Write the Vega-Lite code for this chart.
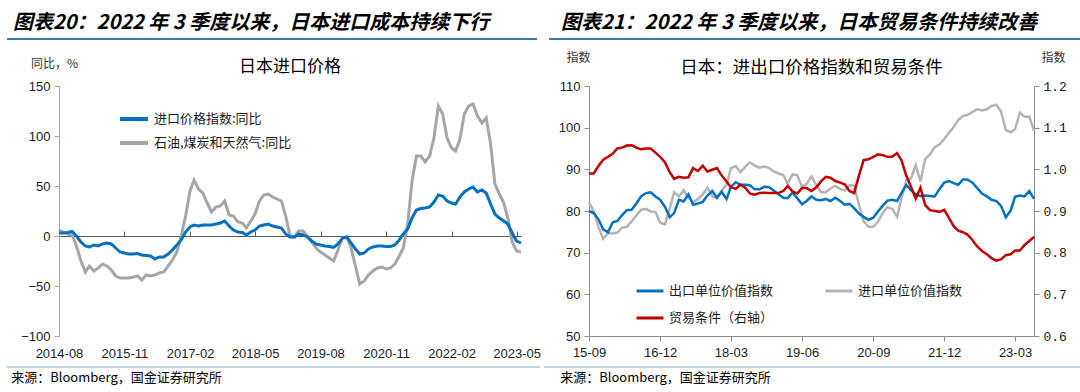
{
  "$schema": "https://vega.github.io/schema/vega-lite/v6.json",
  "background": "#ffffff",
  "padding": {"left": 5, "top": 13, "right": 0, "bottom": 0},
  "config": {
    "view": {"stroke": null},
    "font": "Noto Sans CJK SC",
    "axis": {"grid": false, "labelFont": "Liberation Sans", "labelFontSize": 13, "labelColor": "#1a1a1a", "titleFont": "Noto Sans CJK SC", "titleFontSize": 12, "titleFontWeight": "normal", "titleColor": "#333333", "domainColor": "#8c8c8c", "tickColor": "#8c8c8c", "tickSize": 5, "labelFlush": false, "labelOverlap": false},
    "legend": {"labelFont": "Noto Sans CJK SC", "labelFontSize": 13, "labelColor": "#1a1a1a", "padding": 0},
    "title": {"font": "Noto Sans CJK SC", "fontWeight": "normal", "color": "#000000"}
  },
  "resolve": {"scale": {"color": "independent"}},
  "spacing": 11,
  "vconcat": [
    {
      "spacing": 10,
      "hconcat": [
        {
          "width": 478, "height": 3,
          "title": {"text": "图表20：2022 年 3 季度以来，日本进口成本持续下行", "anchor": "start", "fontSize": 20, "fontWeight": "bold", "fontStyle": "italic", "offset": 3, "dx": 7},
          "data": {"values": [{}]},
          "mark": {"type": "rule", "color": "#3F7AA3", "strokeWidth": 2},
          "encoding": {
            "x": {"datum": -0.1088, "type": "quantitative", "scale": {"domain": [0, 1]}, "axis": null},
            "x2": {"datum": 1},
            "y": {"datum": 0, "type": "quantitative", "scale": {"domain": [0, 1]}, "axis": null}
          }
        },
        {
          "width": 535, "height": 3,
          "title": {"text": "图表21：2022 年 3 季度以来，日本贸易条件持续改善", "anchor": "start", "fontSize": 20, "fontWeight": "bold", "fontStyle": "italic", "offset": 3, "dx": 13},
          "data": {"values": [{}]},
          "mark": {"type": "rule", "color": "#3F7AA3", "strokeWidth": 2},
          "encoding": {
            "x": {"datum": 0, "type": "quantitative", "scale": {"domain": [0, 1]}, "axis": null},
            "x2": {"datum": 1},
            "y": {"datum": 0, "type": "quantitative", "scale": {"domain": [0, 1]}, "axis": null}
          }
        }
      ]
    },
    {
      "spacing": 6,
      "resolve": {"scale": {"color": "independent"}},
      "vconcat": [
        {
          "spacing": 8,
          "resolve": {"scale": {"color": "independent"}},
          "hconcat": [
            {
              "width": 462, "height": 250,
              "title": {"text": "日本进口价格", "fontSize": 17, "offset": 10, "dy": 29, "anchor": "middle"},
              "encoding": {
                "x": {"field": "d", "type": "temporal",
                  "scale": {"type": "utc", "domain": [{"year": 2014, "month": 8, "date": 1, "utc": true}, {"year": 2023, "month": 6, "date": 1, "utc": true}]},
                  "axis": {"values": [{"year": 2014, "month": 8, "date": 1, "utc": true}, {"year": 2015, "month": 11, "date": 1, "utc": true}, {"year": 2017, "month": 2, "date": 1, "utc": true}, {"year": 2018, "month": 5, "date": 1, "utc": true}, {"year": 2019, "month": 8, "date": 1, "utc": true}, {"year": 2020, "month": 11, "date": 1, "utc": true}, {"year": 2022, "month": 2, "date": 1, "utc": true}, {"year": 2023, "month": 5, "date": 1, "utc": true}],
                    "labelExpr": "utcFormat(datum.value, '%Y-%m')", "title": null, "offset": -100, "tickSize": -5, "labelPadding": 116, "domainColor": "#595959", "tickColor": "#595959", "domainWidth": 1.2}},
                "y": {"field": "v", "type": "quantitative", "scale": {"domain": [-100, 150], "nice": false},
                  "axis": {"values": [-100, -50, 0, 50, 100, 150], "title": "同比，%", "titleAngle": 0, "titleAlign": "center", "titleBaseline": "middle", "titleX": -5, "titleY": -23, "labelPadding": 4, "minExtent": 52, "domainColor": "#a6a6a6", "tickColor": "#a6a6a6"}}
              },
              "layer": [
                {
                  "data": {"values": [
                    {"d":"2014-08-01","v":6},{"d":"2014-09-01","v":4},{"d":"2014-10-01","v":2},{"d":"2014-11-01","v":1},{"d":"2014-12-01","v":-10},
                    {"d":"2015-01-01","v":-25},{"d":"2015-02-01","v":-36},{"d":"2015-03-01","v":-30},{"d":"2015-04-01","v":-35},{"d":"2015-05-01","v":-32},{"d":"2015-06-01","v":-28},{"d":"2015-07-01","v":-30},{"d":"2015-08-01","v":-34},{"d":"2015-09-01","v":-40},{"d":"2015-10-01","v":-42},{"d":"2015-11-01","v":-42},{"d":"2015-12-01","v":-42},
                    {"d":"2016-01-01","v":-41},{"d":"2016-02-01","v":-40},{"d":"2016-03-01","v":-44},{"d":"2016-04-01","v":-39},{"d":"2016-05-01","v":-40},{"d":"2016-06-01","v":-39},{"d":"2016-07-01","v":-37},{"d":"2016-08-01","v":-36},{"d":"2016-09-01","v":-30},{"d":"2016-10-01","v":-24},{"d":"2016-11-01","v":-16},{"d":"2016-12-01","v":0},
                    {"d":"2017-01-01","v":20},{"d":"2017-02-01","v":45},{"d":"2017-03-01","v":56},{"d":"2017-04-01","v":47},{"d":"2017-05-01","v":43},{"d":"2017-06-01","v":33},{"d":"2017-07-01","v":24},{"d":"2017-08-01","v":29},{"d":"2017-09-01","v":30},{"d":"2017-10-01","v":35},{"d":"2017-11-01","v":21},{"d":"2017-12-01","v":20},
                    {"d":"2018-01-01","v":14},{"d":"2018-02-01","v":13},{"d":"2018-03-01","v":8},{"d":"2018-04-01","v":15},{"d":"2018-05-01","v":22},{"d":"2018-06-01","v":35},{"d":"2018-07-01","v":41},{"d":"2018-08-01","v":42},{"d":"2018-09-01","v":39},{"d":"2018-10-01","v":37},{"d":"2018-11-01","v":35},{"d":"2018-12-01","v":20},
                    {"d":"2019-01-01","v":0},{"d":"2019-02-01","v":-1},{"d":"2019-03-01","v":5},{"d":"2019-04-01","v":5},{"d":"2019-05-01","v":0},{"d":"2019-06-01","v":-6},{"d":"2019-07-01","v":-12},{"d":"2019-08-01","v":-16},{"d":"2019-09-01","v":-19},{"d":"2019-10-01","v":-22},{"d":"2019-11-01","v":-25},{"d":"2019-12-01","v":-14},
                    {"d":"2020-01-01","v":-2},{"d":"2020-02-01","v":-1},{"d":"2020-03-01","v":-12},{"d":"2020-04-01","v":-30},{"d":"2020-05-01","v":-48},{"d":"2020-06-01","v":-45},{"d":"2020-07-01","v":-39},{"d":"2020-08-01","v":-35},{"d":"2020-09-01","v":-32},{"d":"2020-10-01","v":-31},{"d":"2020-11-01","v":-33},{"d":"2020-12-01","v":-32},
                    {"d":"2021-01-01","v":-28},{"d":"2021-02-01","v":-20},{"d":"2021-03-01","v":-12},{"d":"2021-04-01","v":12},{"d":"2021-05-01","v":55},{"d":"2021-06-01","v":80},{"d":"2021-07-01","v":80},{"d":"2021-08-01","v":74},{"d":"2021-09-01","v":80},{"d":"2021-10-01","v":98},{"d":"2021-11-01","v":130},{"d":"2021-12-01","v":122},
                    {"d":"2022-01-01","v":98},{"d":"2022-02-01","v":88},{"d":"2022-03-01","v":85},{"d":"2022-04-01","v":97},{"d":"2022-05-01","v":122},{"d":"2022-06-01","v":130},{"d":"2022-07-01","v":132},{"d":"2022-08-01","v":120},{"d":"2022-09-01","v":113},{"d":"2022-10-01","v":118},{"d":"2022-11-01","v":92},{"d":"2022-12-01","v":52},
                    {"d":"2023-01-01","v":42},{"d":"2023-02-01","v":33},{"d":"2023-03-01","v":18},{"d":"2023-04-01","v":-6},{"d":"2023-05-01","v":-15},{"d":"2023-06-01","v":-16}
                  ]},
                  "mark": {"type": "line", "strokeWidth": 3},
                  "encoding": {"color": {"datum": "石油,煤炭和天然气:同比", "type": "nominal",
                    "scale": {"domain": ["进口价格指数:同比", "石油,煤炭和天然气:同比"], "range": ["#0070C0", "#A6A6A6"]},
                    "legend": {"orient": "none", "legendX": 59, "legendY": 17, "title": null, "symbolType": "stroke", "symbolSize": 784, "symbolStrokeWidth": 4, "labelOffset": 4, "rowPadding": -3}}}
                },
                {
                  "data": {"values": [
                    {"d":"2014-08-01","v":3},{"d":"2014-09-01","v":3},{"d":"2014-10-01","v":3.5},{"d":"2014-11-01","v":4.5},{"d":"2014-12-01","v":0},
                    {"d":"2015-01-01","v":-6},{"d":"2015-02-01","v":-10},{"d":"2015-03-01","v":-11},{"d":"2015-04-01","v":-9},{"d":"2015-05-01","v":-10},{"d":"2015-06-01","v":-8},{"d":"2015-07-01","v":-7},{"d":"2015-08-01","v":-8},{"d":"2015-09-01","v":-12},{"d":"2015-10-01","v":-16},{"d":"2015-11-01","v":-17},{"d":"2015-12-01","v":-18},
                    {"d":"2016-01-01","v":-18},{"d":"2016-02-01","v":-17.5},{"d":"2016-03-01","v":-19},{"d":"2016-04-01","v":-19.5},{"d":"2016-05-01","v":-20},{"d":"2016-06-01","v":-23},{"d":"2016-07-01","v":-21},{"d":"2016-08-01","v":-21},{"d":"2016-09-01","v":-18},{"d":"2016-10-01","v":-14},{"d":"2016-11-01","v":-9},{"d":"2016-12-01","v":-4},
                    {"d":"2017-01-01","v":4},{"d":"2017-02-01","v":9},{"d":"2017-03-01","v":11},{"d":"2017-04-01","v":10},{"d":"2017-05-01","v":11},{"d":"2017-06-01","v":11},{"d":"2017-07-01","v":11},{"d":"2017-08-01","v":12},{"d":"2017-09-01","v":13},{"d":"2017-10-01","v":15},{"d":"2017-11-01","v":10},{"d":"2017-12-01","v":6},
                    {"d":"2018-01-01","v":4},{"d":"2018-02-01","v":3.5},{"d":"2018-03-01","v":1},{"d":"2018-04-01","v":4},{"d":"2018-05-01","v":6},{"d":"2018-06-01","v":10},{"d":"2018-07-01","v":11},{"d":"2018-08-01","v":12},{"d":"2018-09-01","v":10},{"d":"2018-10-01","v":9},{"d":"2018-11-01","v":8},{"d":"2018-12-01","v":2},
                    {"d":"2019-01-01","v":-1},{"d":"2019-02-01","v":-1},{"d":"2019-03-01","v":2},{"d":"2019-04-01","v":1},{"d":"2019-05-01","v":-1},{"d":"2019-06-01","v":-5},{"d":"2019-07-01","v":-8},{"d":"2019-08-01","v":-9},{"d":"2019-09-01","v":-10},{"d":"2019-10-01","v":-10.5},{"d":"2019-11-01","v":-11.5},{"d":"2019-12-01","v":-8},
                    {"d":"2020-01-01","v":-2},{"d":"2020-02-01","v":-1},{"d":"2020-03-01","v":-7},{"d":"2020-04-01","v":-13},{"d":"2020-05-01","v":-18},{"d":"2020-06-01","v":-17},{"d":"2020-07-01","v":-13},{"d":"2020-08-01","v":-11},{"d":"2020-09-01","v":-10},{"d":"2020-10-01","v":-10},{"d":"2020-11-01","v":-10.5},{"d":"2020-12-01","v":-10.5},
                    {"d":"2021-01-01","v":-9},{"d":"2021-02-01","v":-4},{"d":"2021-03-01","v":2},{"d":"2021-04-01","v":7},{"d":"2021-05-01","v":18},{"d":"2021-06-01","v":26},{"d":"2021-07-01","v":27.5},{"d":"2021-08-01","v":28},{"d":"2021-09-01","v":29},{"d":"2021-10-01","v":34},{"d":"2021-11-01","v":41},{"d":"2021-12-01","v":40},
                    {"d":"2022-01-01","v":35},{"d":"2022-02-01","v":33},{"d":"2022-03-01","v":32},{"d":"2022-04-01","v":39},{"d":"2022-05-01","v":44},{"d":"2022-06-01","v":47},{"d":"2022-07-01","v":49},{"d":"2022-08-01","v":44},{"d":"2022-09-01","v":46},{"d":"2022-10-01","v":43},{"d":"2022-11-01","v":32},{"d":"2022-12-01","v":22},
                    {"d":"2023-01-01","v":18},{"d":"2023-02-01","v":15},{"d":"2023-03-01","v":12},{"d":"2023-04-01","v":3},{"d":"2023-05-01","v":-5},{"d":"2023-06-01","v":-7}
                  ]},
                  "mark": {"type": "line", "strokeWidth": 3},
                  "encoding": {"color": {"datum": "进口价格指数:同比", "type": "nominal",
                    "scale": {"domain": ["进口价格指数:同比", "石油,煤炭和天然气:同比"], "range": ["#0070C0", "#A6A6A6"]}}}
                }
              ]
            },
            {
              "width": 445, "height": 250,
              "title": {"text": "日本：进出口价格指数和贸易条件", "fontSize": 17.5, "offset": 10, "dy": 35, "anchor": "middle"},
              "encoding": {
                "x": {"field": "d", "type": "temporal",
                  "scale": {"type": "utc", "domain": [{"year": 2015, "month": 9, "date": 1, "utc": true}, {"year": 2023, "month": 7, "date": 1, "utc": true}]},
                  "axis": {"values": [{"year": 2015, "month": 9, "date": 1, "utc": true}, {"year": 2016, "month": 12, "date": 1, "utc": true}, {"year": 2018, "month": 3, "date": 1, "utc": true}, {"year": 2019, "month": 6, "date": 1, "utc": true}, {"year": 2020, "month": 9, "date": 1, "utc": true}, {"year": 2021, "month": 12, "date": 1, "utc": true}, {"year": 2023, "month": 3, "date": 1, "utc": true}],
                    "labelExpr": "utcFormat(datum.value, '%y-%m')", "title": null, "labelPadding": 5}}
              },
              "layer": [
                {
                  "encoding": {
                    "y": {"field": "v", "type": "quantitative", "scale": {"domain": [50, 110], "nice": false},
                      "axis": {"values": [50, 60, 70, 80, 90, 100, 110], "title": "指数", "titleAngle": 0, "titleAlign": "center", "titleBaseline": "middle", "titleX": -11, "titleY": -29, "labelPadding": 4, "minExtent": 40}}
                  },
                  "layer": [
                    {
                      "data": {"values": [
                        {"d":"2015-09-01","v":82},{"d":"2015-10-01","v":80},{"d":"2015-11-01","v":76.2},{"d":"2015-12-01","v":73.3},
                        {"d":"2016-01-01","v":74.7},{"d":"2016-02-01","v":74.6},{"d":"2016-03-01","v":74.8},{"d":"2016-04-01","v":76},{"d":"2016-05-01","v":76.2},{"d":"2016-06-01","v":77.5},{"d":"2016-07-01","v":78.9},{"d":"2016-08-01","v":80.3},{"d":"2016-09-01","v":80.5},{"d":"2016-10-01","v":79.9},{"d":"2016-11-01","v":79.8},{"d":"2016-12-01","v":77.2},
                        {"d":"2017-01-01","v":76.8},{"d":"2017-02-01","v":80.5},{"d":"2017-03-01","v":84.5},{"d":"2017-04-01","v":83.5},{"d":"2017-05-01","v":85},{"d":"2017-06-01","v":83.2},{"d":"2017-07-01","v":82.1},{"d":"2017-08-01","v":82.9},{"d":"2017-09-01","v":84},{"d":"2017-10-01","v":85.6},{"d":"2017-11-01","v":83.5},{"d":"2017-12-01","v":83.1},
                        {"d":"2018-01-01","v":84.9},{"d":"2018-02-01","v":86.3},{"d":"2018-03-01","v":90.3},{"d":"2018-04-01","v":90.8},{"d":"2018-05-01","v":89.3},{"d":"2018-06-01","v":90.6},{"d":"2018-07-01","v":91.7},{"d":"2018-08-01","v":90.9},{"d":"2018-09-01","v":90.4},{"d":"2018-10-01","v":90.7},{"d":"2018-11-01","v":90.3},{"d":"2018-12-01","v":89.5},
                        {"d":"2019-01-01","v":89},{"d":"2019-02-01","v":88.6},{"d":"2019-03-01","v":86.6},{"d":"2019-04-01","v":88.8},{"d":"2019-05-01","v":88.6},{"d":"2019-06-01","v":85.8},{"d":"2019-07-01","v":86.5},{"d":"2019-08-01","v":88.3},{"d":"2019-09-01","v":86.2},{"d":"2019-10-01","v":84.5},{"d":"2019-11-01","v":84.5},{"d":"2019-12-01","v":85.4},
                        {"d":"2020-01-01","v":86},{"d":"2020-02-01","v":85.3},{"d":"2020-03-01","v":84.9},{"d":"2020-04-01","v":86.2},{"d":"2020-05-01","v":86.1},{"d":"2020-06-01","v":81.5},{"d":"2020-07-01","v":77.5},{"d":"2020-08-01","v":76.2},{"d":"2020-09-01","v":76.2},{"d":"2020-10-01","v":77.4},{"d":"2020-11-01","v":79.5},{"d":"2020-12-01","v":80.9},
                        {"d":"2021-01-01","v":80.5},{"d":"2021-02-01","v":78.6},{"d":"2021-03-01","v":83},{"d":"2021-04-01","v":87.4},{"d":"2021-05-01","v":87.8},{"d":"2021-06-01","v":91},{"d":"2021-07-01","v":87.1},{"d":"2021-08-01","v":92.5},{"d":"2021-09-01","v":93.6},{"d":"2021-10-01","v":95.3},{"d":"2021-11-01","v":96},{"d":"2021-12-01","v":97.3},
                        {"d":"2022-01-01","v":98.8},{"d":"2022-02-01","v":100.2},{"d":"2022-03-01","v":101.8},{"d":"2022-04-01","v":102.8},{"d":"2022-05-01","v":103.1},{"d":"2022-06-01","v":103.8},{"d":"2022-07-01","v":104.4},{"d":"2022-08-01","v":104.1},{"d":"2022-09-01","v":104.4},{"d":"2022-10-01","v":105.2},{"d":"2022-11-01","v":105.5},{"d":"2022-12-01","v":103.9},
                        {"d":"2023-01-01","v":99.4},{"d":"2023-02-01","v":98.9},{"d":"2023-03-01","v":99.6},{"d":"2023-04-01","v":103.6},{"d":"2023-05-01","v":102.6},{"d":"2023-06-01","v":102.6},{"d":"2023-07-01","v":99.3}
                      ]},
                      "mark": {"type": "line", "strokeWidth": 2.5},
                      "encoding": {"color": {"datum": "进口单位价值指数", "type": "nominal",
                        "scale": {"domain": ["出口单位价值指数", "进口单位价值指数", "贸易条件（右轴）"], "range": ["#0070C0", "#B4B4B4", "#C00000"]},
                        "legend": {"orient": "none", "direction": "horizontal", "legendX": 46, "legendY": 190, "columns": 2, "columnPadding": 45, "rowPadding": 5, "title": null, "symbolType": "stroke", "symbolSize": 729, "symbolStrokeWidth": 3, "labelOffset": 4}}}
                    },
                    {
                      "data": {"values": [
                        {"d":"2015-09-01","v":80},{"d":"2015-10-01","v":79.5},{"d":"2015-11-01","v":78},{"d":"2015-12-01","v":75.6},
                        {"d":"2016-01-01","v":74.9},{"d":"2016-02-01","v":77.3},{"d":"2016-03-01","v":77.6},{"d":"2016-04-01","v":79},{"d":"2016-05-01","v":80.2},{"d":"2016-06-01","v":80.3},{"d":"2016-07-01","v":81.8},{"d":"2016-08-01","v":83.5},{"d":"2016-09-01","v":84.3},{"d":"2016-10-01","v":84.5},{"d":"2016-11-01","v":83.5},{"d":"2016-12-01","v":82.7},
                        {"d":"2017-01-01","v":81},{"d":"2017-02-01","v":78.5},{"d":"2017-03-01","v":79.5},{"d":"2017-04-01","v":82.7},{"d":"2017-05-01","v":82.3},{"d":"2017-06-01","v":84},{"d":"2017-07-01","v":81.5},{"d":"2017-08-01","v":81.8},{"d":"2017-09-01","v":82.2},{"d":"2017-10-01","v":83.7},{"d":"2017-11-01","v":84.8},{"d":"2017-12-01","v":83.2},
                        {"d":"2018-01-01","v":84.6},{"d":"2018-02-01","v":82.9},{"d":"2018-03-01","v":85.8},{"d":"2018-04-01","v":86.9},{"d":"2018-05-01","v":86.3},{"d":"2018-06-01","v":86.3},{"d":"2018-07-01","v":86.2},{"d":"2018-08-01","v":85.2},{"d":"2018-09-01","v":85.2},{"d":"2018-10-01","v":85.8},{"d":"2018-11-01","v":85.7},{"d":"2018-12-01","v":84.9},
                        {"d":"2019-01-01","v":84},{"d":"2019-02-01","v":83.2},{"d":"2019-03-01","v":83.1},{"d":"2019-04-01","v":84.4},{"d":"2019-05-01","v":83.1},{"d":"2019-06-01","v":81.6},{"d":"2019-07-01","v":82.4},{"d":"2019-08-01","v":83.5},{"d":"2019-09-01","v":82.7},{"d":"2019-10-01","v":82.6},{"d":"2019-11-01","v":82.9},{"d":"2019-12-01","v":82.4},
                        {"d":"2020-01-01","v":83.2},{"d":"2020-02-01","v":82.4},{"d":"2020-03-01","v":81.5},{"d":"2020-04-01","v":81.7},{"d":"2020-05-01","v":80.7},{"d":"2020-06-01","v":79.4},{"d":"2020-07-01","v":78.6},{"d":"2020-08-01","v":77.9},{"d":"2020-09-01","v":78.4},{"d":"2020-10-01","v":79.9},{"d":"2020-11-01","v":81.3},{"d":"2020-12-01","v":82.5},
                        {"d":"2021-01-01","v":82.7},{"d":"2021-02-01","v":82.4},{"d":"2021-03-01","v":84.3},{"d":"2021-04-01","v":86.2},{"d":"2021-05-01","v":85},{"d":"2021-06-01","v":84},{"d":"2021-07-01","v":83.6},{"d":"2021-08-01","v":83.7},{"d":"2021-09-01","v":83.6},{"d":"2021-10-01","v":83.5},{"d":"2021-11-01","v":85.3},{"d":"2021-12-01","v":86.8},
                        {"d":"2022-01-01","v":87.2},{"d":"2022-02-01","v":86.7},{"d":"2022-03-01","v":86.3},{"d":"2022-04-01","v":87.6},{"d":"2022-05-01","v":87.5},{"d":"2022-06-01","v":86.8},{"d":"2022-07-01","v":85.5},{"d":"2022-08-01","v":84.2},{"d":"2022-09-01","v":83.5},{"d":"2022-10-01","v":82.7},{"d":"2022-11-01","v":82.4},{"d":"2022-12-01","v":81.2},
                        {"d":"2023-01-01","v":78.5},{"d":"2023-02-01","v":80.1},{"d":"2023-03-01","v":83.4},{"d":"2023-04-01","v":83.7},{"d":"2023-05-01","v":83.5},{"d":"2023-06-01","v":84.8},{"d":"2023-07-01","v":82.9}
                      ]},
                      "mark": {"type": "line", "strokeWidth": 2.5},
                      "encoding": {"color": {"datum": "出口单位价值指数", "type": "nominal",
                        "scale": {"domain": ["出口单位价值指数", "进口单位价值指数", "贸易条件（右轴）"], "range": ["#0070C0", "#B4B4B4", "#C00000"]}}}
                    }
                  ]
                },
                {
                  "data": {"values": [
                    {"d":"2015-09-01","v":0.99},{"d":"2015-10-01","v":0.99},{"d":"2015-11-01","v":1.008},{"d":"2015-12-01","v":1.023},
                    {"d":"2016-01-01","v":1.03},{"d":"2016-02-01","v":1.038},{"d":"2016-03-01","v":1.05},{"d":"2016-04-01","v":1.052},{"d":"2016-05-01","v":1.057},{"d":"2016-06-01","v":1.058},{"d":"2016-07-01","v":1.052},{"d":"2016-08-01","v":1.048},{"d":"2016-09-01","v":1.05},{"d":"2016-10-01","v":1.05},{"d":"2016-11-01","v":1.04},{"d":"2016-12-01","v":1.03},
                    {"d":"2017-01-01","v":1.017},{"d":"2017-02-01","v":0.993},{"d":"2017-03-01","v":0.977},{"d":"2017-04-01","v":0.982},{"d":"2017-05-01","v":0.98},{"d":"2017-06-01","v":0.981},{"d":"2017-07-01","v":1.003},{"d":"2017-08-01","v":0.996},{"d":"2017-09-01","v":1.009},{"d":"2017-10-01","v":0.995},{"d":"2017-11-01","v":0.999},{"d":"2017-12-01","v":1.003},
                    {"d":"2018-01-01","v":0.985},{"d":"2018-02-01","v":0.971},{"d":"2018-03-01","v":0.957},{"d":"2018-04-01","v":0.953},{"d":"2018-05-01","v":0.963},{"d":"2018-06-01","v":0.956},{"d":"2018-07-01","v":0.942},{"d":"2018-08-01","v":0.939},{"d":"2018-09-01","v":0.943},{"d":"2018-10-01","v":0.944},{"d":"2018-11-01","v":0.943},{"d":"2018-12-01","v":0.943},
                    {"d":"2019-01-01","v":0.943},{"d":"2019-02-01","v":0.948},{"d":"2019-03-01","v":0.96},{"d":"2019-04-01","v":0.947},{"d":"2019-05-01","v":0.942},{"d":"2019-06-01","v":0.955},{"d":"2019-07-01","v":0.955},{"d":"2019-08-01","v":0.948},{"d":"2019-09-01","v":0.957},{"d":"2019-10-01","v":0.971},{"d":"2019-11-01","v":0.982},{"d":"2019-12-01","v":0.98},
                    {"d":"2020-01-01","v":0.972},{"d":"2020-02-01","v":0.968},{"d":"2020-03-01","v":0.964},{"d":"2020-04-01","v":0.948},{"d":"2020-05-01","v":0.943},{"d":"2020-06-01","v":0.985},{"d":"2020-07-01","v":1.022},{"d":"2020-08-01","v":1.024},{"d":"2020-09-01","v":1.03},{"d":"2020-10-01","v":1.036},{"d":"2020-11-01","v":1.034},{"d":"2020-12-01","v":1.03},
                    {"d":"2021-01-01","v":1.03},{"d":"2021-02-01","v":1.039},{"d":"2021-03-01","v":1.022},{"d":"2021-04-01","v":0.985},{"d":"2021-05-01","v":0.958},{"d":"2021-06-01","v":0.93},{"d":"2021-07-01","v":0.956},{"d":"2021-08-01","v":0.914},{"d":"2021-09-01","v":0.902},{"d":"2021-10-01","v":0.9},{"d":"2021-11-01","v":0.898},{"d":"2021-12-01","v":0.903},
                    {"d":"2022-01-01","v":0.883},{"d":"2022-02-01","v":0.863},{"d":"2022-03-01","v":0.853},{"d":"2022-04-01","v":0.849},{"d":"2022-05-01","v":0.843},{"d":"2022-06-01","v":0.83},{"d":"2022-07-01","v":0.815},{"d":"2022-08-01","v":0.804},{"d":"2022-09-01","v":0.796},{"d":"2022-10-01","v":0.787},{"d":"2022-11-01","v":0.781},{"d":"2022-12-01","v":0.784},
                    {"d":"2023-01-01","v":0.794},{"d":"2023-02-01","v":0.796},{"d":"2023-03-01","v":0.805},{"d":"2023-04-01","v":0.805},{"d":"2023-05-01","v":0.818},{"d":"2023-06-01","v":0.828},{"d":"2023-07-01","v":0.838}
                  ]},
                  "mark": {"type": "line", "strokeWidth": 2.5},
                  "encoding": {
                    "y": {"field": "v", "type": "quantitative", "scale": {"domain": [0.6, 1.2], "nice": false},
                      "axis": {"orient": "right", "values": [0.6, 0.7, 0.8, 0.9, 1.0, 1.1, 1.2], "format": ".1f", "labelFont": "Liberation Mono", "title": "指数", "titleAngle": 0, "titleAlign": "center", "titleBaseline": "middle", "titleX": 19, "titleY": -29, "labelPadding": 4}},
                    "color": {"datum": "贸易条件（右轴）", "type": "nominal",
                      "scale": {"domain": ["出口单位价值指数", "进口单位价值指数", "贸易条件（右轴）"], "range": ["#0070C0", "#B4B4B4", "#C00000"]}}
                  }
                }
              ],
              "resolve": {"scale": {"y": "independent"}}
            }
          ]
        },
        {
          "spacing": 2,
          "hconcat": [
            {
              "width": 481, "height": 2,
              "title": {"text": "来源：Bloomberg，国金证券研究所", "orient": "bottom", "anchor": "start", "fontSize": 13, "offset": 3, "dx": 5},
              "data": {"values": [{}]},
              "mark": {"type": "rule", "color": "#A7C7DC", "strokeWidth": 1.5},
              "encoding": {
                "x": {"datum": -0.1081, "type": "quantitative", "scale": {"domain": [0, 1]}, "axis": null},
                "x2": {"datum": 1},
                "y": {"datum": 1, "type": "quantitative", "scale": {"domain": [0, 1]}, "axis": null}
              }
            },
            {
              "width": 540, "height": 2,
              "title": {"text": "来源：Bloomberg，国金证券研究所", "orient": "bottom", "anchor": "start", "fontSize": 13, "offset": 3, "dx": 17},
              "data": {"values": [{}]},
              "mark": {"type": "rule", "color": "#A7C7DC", "strokeWidth": 1.5},
              "encoding": {
                "x": {"datum": 0, "type": "quantitative", "scale": {"domain": [0, 1]}, "axis": null},
                "x2": {"datum": 1},
                "y": {"datum": 1, "type": "quantitative", "scale": {"domain": [0, 1]}, "axis": null}
              }
            }
          ]
        }
      ]
    }
  ]
}
